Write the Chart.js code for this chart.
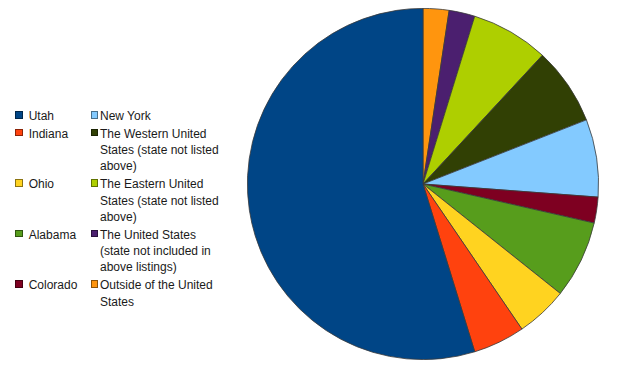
<!DOCTYPE html>
<html lang="en">
<head>
    <meta charset="UTF-8">
    <title>Where are you from?</title>
    <script src="https://cdn.jsdelivr.net/npm/chart.js"></script>
    <style>
        body {
            margin: 0;
            background: #fff;
            width: 640px;
            height: 379px;
            position: relative;
            overflow: hidden;
            font-family: 'Liberation Sans', Arial, sans-serif;
        }
        .pie-box {
            position: absolute;
            left: 247px;
            top: 8px;
            width: 352px;
            height: 352px;
        }
        .legend {
            position: absolute;
            left: 15px;
            top: 108px;
            display: grid;
            grid-template-columns: 13.7px 62px 9.3px 130px;
            row-gap: 1.6px;
            font-size: 12px;
            line-height: 16.3px;
            color: #1a1a1a;
        }
        .sq {
            width: 7.5px;
            height: 7.5px;
            margin-top: 3px;
            box-sizing: border-box;
            border: 0.5px solid rgba(0, 0, 0, 0.45);
        }
    </style>
</head>
<body>
    <div class="legend" id="legend"></div>
    <div class="pie-box"><canvas id="pie"></canvas></div>

    <script>
        // legend order (counter-clockwise from the top in the picture)
        const labels = [
            'Utah',
            'Indiana',
            'Ohio',
            'Alabama',
            'Colorado',
            'New York',
            'The Western United<br>States (state not listed<br>above)',
            'The Eastern United<br>States (state not listed<br>above)',
            'The United States<br>(state not included in<br>above listings)',
            'Outside of the United<br>States'
        ];
        const values = [23, 2, 2, 3, 1, 3, 3, 3, 1, 1];
        const colors = [
            '#004586', '#ff420e', '#ffd320', '#579d1c', '#7e0021',
            '#83caff', '#314004', '#aecf00', '#4b1f6f', '#ff950e'
        ];

        // legend: two columns, first five on the left
        const legend = document.getElementById('legend');
        for (let r = 0; r < 5; r++) {
            [r, r + 5].forEach(i => {
                const sq = document.createElement('div');
                const cell = document.createElement('div');
                sq.innerHTML = '<div class="sq" style="background:' + colors[i] + '"></div>';
                cell.innerHTML = labels[i];
                legend.appendChild(sq);
                legend.appendChild(cell);
            });
        }

        // original runs counter-clockwise, Chart.js runs clockwise -> reverse
        const rev = a => a.slice().reverse();

        new Chart(document.getElementById('pie'), {
            type: 'pie',
            data: {
                labels: rev(labels.map(s => s.replace(/<br>/g, ' '))),
                datasets: [{
                    data: rev(values),
                    backgroundColor: rev(colors),
                    borderColor: '#3a3a3a',
                    borderWidth: 0.8
                }]
            },
            options: {
                responsive: true,
                maintainAspectRatio: false,
                animation: false,
                layout: { padding: 0 },
                plugins: {
                    legend: { display: false },
                    tooltip: { enabled: false }
                }
            }
        });
    </script>
</body>
</html>
